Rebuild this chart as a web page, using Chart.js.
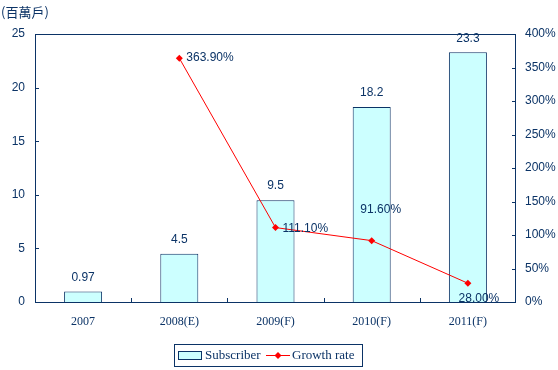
<!DOCTYPE html>
<html>
<head>
<meta charset="utf-8">
<script src="https://cdn.jsdelivr.net/npm/chart.js@4"></script>
<style>
  body { margin: 0; background: #fff; }
  #wrap { position: relative; width: 558px; height: 370px; }
</style>
</head>
<body>
<div id="wrap"><canvas id="miGrafico" width="558" height="370"></canvas></div>
<script>
const categorias = ['2007', '2008(E)', '2009(F)', '2010(F)', '2011(F)'];
const suscriptores = [0.97, 4.5, 9.5, 18.2, 23.3];
const crecimiento = [null, 363.9, 111.1, 91.6, 28.0];
const etiquetasSuscriptores = ['0.97', '4.5', '9.5', '18.2', '23.3'];

const azul = '#0b3366';
const rojo = '#ff0000';
const sans = '"Liberation Sans", Arial, sans-serif';
const serif = '"Liberation Serif", "Times New Roman", serif';

// desplazamiento de cada etiqueta de la línea respecto a su punto
const desplazLinea = [null, [7, 0, 'left'], [7, 1, 'left'], [9, -31, 'center'], [11, 15, 'center']];

const extras = {
  id: 'extras',
  afterDatasetsDraw(chart) {
    const ctx = chart.ctx;
    const a = chart.chartArea;
    const x = chart.scales.x, y = chart.scales.y, y1 = chart.scales.y1;
    ctx.save();

    // marco del área de dibujo
    ctx.strokeStyle = azul;
    ctx.lineWidth = 1;
    ctx.strokeRect(Math.round(a.left) + 0.5, Math.round(a.top) + 0.5,
      Math.round(a.right - a.left) - 1, Math.round(a.bottom - a.top));

    // marcas hacia dentro
    ctx.beginPath();
    for (let v = 5; v < 25; v += 5) {
      const py = Math.round(y.getPixelForValue(v)) + 0.5;
      ctx.moveTo(a.left, py); ctx.lineTo(a.left + 4, py);
    }
    for (let v = 50; v < 400; v += 50) {
      const py = Math.round(y1.getPixelForValue(v)) + 0.5;
      ctx.moveTo(a.right, py); ctx.lineTo(a.right - 4, py);
    }
    for (let i = 1; i < categorias.length; i++) {
      const px = Math.round((x.getPixelForValue(i - 1) + x.getPixelForValue(i)) / 2) + 0.5;
      ctx.moveTo(px, a.bottom); ctx.lineTo(px, a.bottom - 4);
    }
    ctx.stroke();

    // etiquetas de las barras
    ctx.fillStyle = azul;
    ctx.textBaseline = 'middle';
    ctx.textAlign = 'center';
    ctx.font = '12px ' + sans;
    chart.getDatasetMeta(0).data.forEach((el, i) => {
      ctx.fillText(etiquetasSuscriptores[i], el.x, el.y - 14);
    });

    // etiquetas de la línea
    chart.getDatasetMeta(1).data.forEach((el, i) => {
      const v = crecimiento[i];
      if (v === null) return;
      const d = desplazLinea[i];
      ctx.textAlign = d[2];
      ctx.fillText(v.toFixed(2) + '%', el.x + d[0], el.y + d[1]);
    });

    // título del eje
    ctx.textAlign = 'left';
    ctx.font = '13px "Noto Sans CJK TC", sans-serif';
    ctx.fillText('(百萬戶)', 1, 12);

    // leyenda
    const lx = 174, ly = 344, lw = 188, lh = 22;
    ctx.strokeRect(lx + 0.5, ly + 0.5, lw, lh);
    ctx.fillStyle = '#ccffff';
    ctx.fillRect(lx + 4, ly + 7, 23, 8);
    ctx.strokeRect(lx + 4.5, ly + 7.5, 23, 8);
    ctx.fillStyle = azul;
    ctx.font = '13px ' + serif;
    ctx.fillText('Subscriber', lx + 31, ly + 12);
    ctx.strokeStyle = rojo;
    ctx.beginPath();
    ctx.moveTo(lx + 92, ly + 11.5); ctx.lineTo(lx + 116, ly + 11.5);
    ctx.stroke();
    ctx.fillStyle = rojo;
    ctx.beginPath();
    ctx.moveTo(lx + 104, ly + 8); ctx.lineTo(lx + 107.5, ly + 11.5);
    ctx.lineTo(lx + 104, ly + 15); ctx.lineTo(lx + 100.5, ly + 11.5);
    ctx.closePath(); ctx.fill();
    ctx.fillStyle = azul;
    ctx.fillText('Growth rate', lx + 118, ly + 12);

    ctx.restore();
  }
};

const ctx = document.getElementById('miGrafico').getContext('2d');
const myChart = new Chart(ctx, {
  type: 'bar',
  data: {
    labels: categorias,
    datasets: [
      {
        label: 'Subscriber',
        data: suscriptores,
        backgroundColor: '#ccffff',
        borderColor: azul,
        borderWidth: 1,
        barPercentage: 1,
        categoryPercentage: 0.395,
        yAxisID: 'y',
        order: 2
      },
      {
        type: 'line',
        label: 'Growth rate',
        data: crecimiento,
        borderColor: rojo,
        backgroundColor: rojo,
        borderWidth: 1,
        pointStyle: 'rectRot',
        pointRadius: 3.5,
        pointBorderWidth: 0,
        tension: 0,
        yAxisID: 'y1',
        order: 1
      }
    ]
  },
  options: {
    responsive: false,
    animation: false,
    layout: { padding: { top: 34, bottom: 18, left: 0, right: 0 } },
    plugins: {
      legend: { display: false },
      tooltip: { enabled: false }
    },
    scales: {
      x: {
        grid: { display: false },
        border: { display: false },
        ticks: { color: azul, font: { family: serif, size: 12 }, padding: 5, maxRotation: 0 },
        afterFit(s) { s.height = 50; }
      },
      y: {
        position: 'left',
        min: 0, max: 25,
        grid: { display: false },
        border: { display: false },
        ticks: { stepSize: 5, color: azul, font: { family: sans, size: 12 }, padding: 2 },
        afterFit(s) { s.width = 35; }
      },
      y1: {
        position: 'right',
        min: 0, max: 400,
        grid: { display: false },
        border: { display: false },
        ticks: { stepSize: 50, color: azul, font: { family: sans, size: 12 }, padding: 1,
          callback: v => v + '%' },
        afterFit(s) { s.width = 42; }
      }
    }
  },
  plugins: [extras]
});
</script>
</body>
</html>
